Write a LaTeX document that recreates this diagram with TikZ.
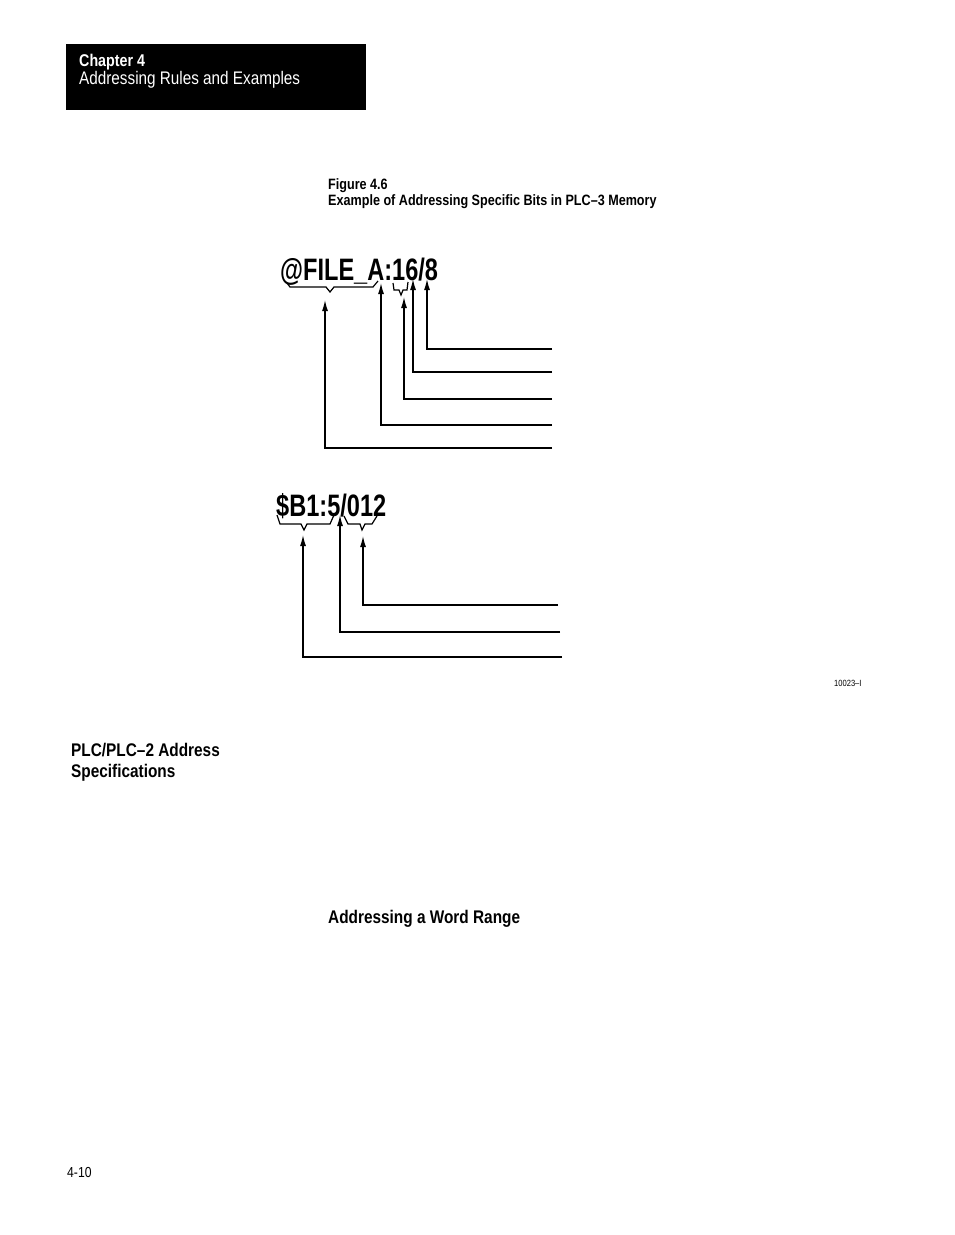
\documentclass[tikz,border=0pt]{standalone}
\usepackage{fontspec}
\setmainfont{Liberation Sans}[FakeStretch=0.84]
\newfontfamily\addrfont{Liberation Sans}[FakeStretch=0.76]
\usetikzlibrary{arrows.meta}

\tikzset{
  lbl/.style={inner sep=0pt, anchor=base west},
  ptr/.style={line width=1.3pt, -{Latex[length=11pt,width=6pt]}},
  brc/.style={line width=1.2pt, line join=miter},
  addr/.style={lbl, font=\addrfont\fontsize{31}{33}\selectfont\bfseries}
}

\begin{document}
\begin{tikzpicture}[x=1pt,y=-1pt]
      \useasboundingbox (0,0) rectangle (954,1235);

      % chapter heading
      \fill[black] (66,44) rectangle (366,110);
      \node[lbl, text=white, font=\fontsize{17}{19}\selectfont\bfseries] (chap) at (79,66) {Chapter 4};
      \node[lbl, text=white, font=\fontsize{18.2}{20}\selectfont] (chaptitle) at (79,84) {Addressing Rules and Examples};

      % caption
      \node[lbl, font=\fontsize{15}{17}\selectfont\bfseries] (fignum) at (328,189) {Figure 4.6};
      \node[lbl, font=\fontsize{15}{17}\selectfont\bfseries] (figcap) at (328,205) {Example of Addressing Specific Bits in PLC--3 Memory};

      % first address
      \node[addr] (addrA) at (280,280) {@FILE\_A:16/8};
      \draw[brc] (287,283) -- (290,287) -- (326,287) -- (330,292) -- (334,287) -- (373,287) -- (378,281);
      \draw[brc] (393,283) -- (394,290) -- (399,290) -- (401,295) -- (403,290) -- (407,290) -- (408,282);

      \coordinate (a1) at (427,279);
      \coordinate (a2) at (413,279);
      \coordinate (a3) at (404,297);
      \coordinate (a4) at (381,283);
      \coordinate (a5) at (325,300);
      \coordinate (e1) at (552,349);
      \coordinate (e2) at (552,372);
      \coordinate (e3) at (552,399);
      \coordinate (e4) at (552,425);
      \coordinate (e5) at (552,448);
      \foreach \i in {1,...,5}
        \draw[ptr] (e\i) -| (a\i);

      % second address
      \node[addr] (addrB) at (276,516) {\$B1:5/012};
      \draw[brc] (277,515) -- (280,524) -- (301,524) -- (304,530) -- (307,524) -- (330,524) -- (334,515);
      \draw[brc] (344,516) -- (348,524) -- (360,524) -- (362,530) -- (365,524) -- (372,524) -- (377,516);

      \coordinate (b1) at (363,536);
      \coordinate (b2) at (340,515);
      \coordinate (b3) at (303,535);
      \coordinate (f1) at (558,605);
      \coordinate (f2) at (560,632);
      \coordinate (f3) at (562,657);
      \foreach \i in {1,2,3}
        \draw[ptr] (f\i) -| (b\i);

      \node[lbl, font=\fontsize{9}{10}\selectfont] (figid) at (834,686) {10023--I};

      % side headings
      \node[lbl, font=\fontsize{18.3}{20}\selectfont\bfseries] (plchead) at (71,756) {PLC/PLC--2 Address};
      \node[lbl, font=\fontsize{18.3}{20}\selectfont\bfseries] (plchead2) at (71,777) {Specifications};
      \node[lbl, font=\fontsize{18.3}{20}\selectfont\bfseries] (wordrange) at (328,923) {Addressing a Word Range};

      \node[lbl, font=\fontsize{14.5}{16}\selectfont] (pageno) at (67,1177) {4-10};
    \end{tikzpicture}
\end{document}
